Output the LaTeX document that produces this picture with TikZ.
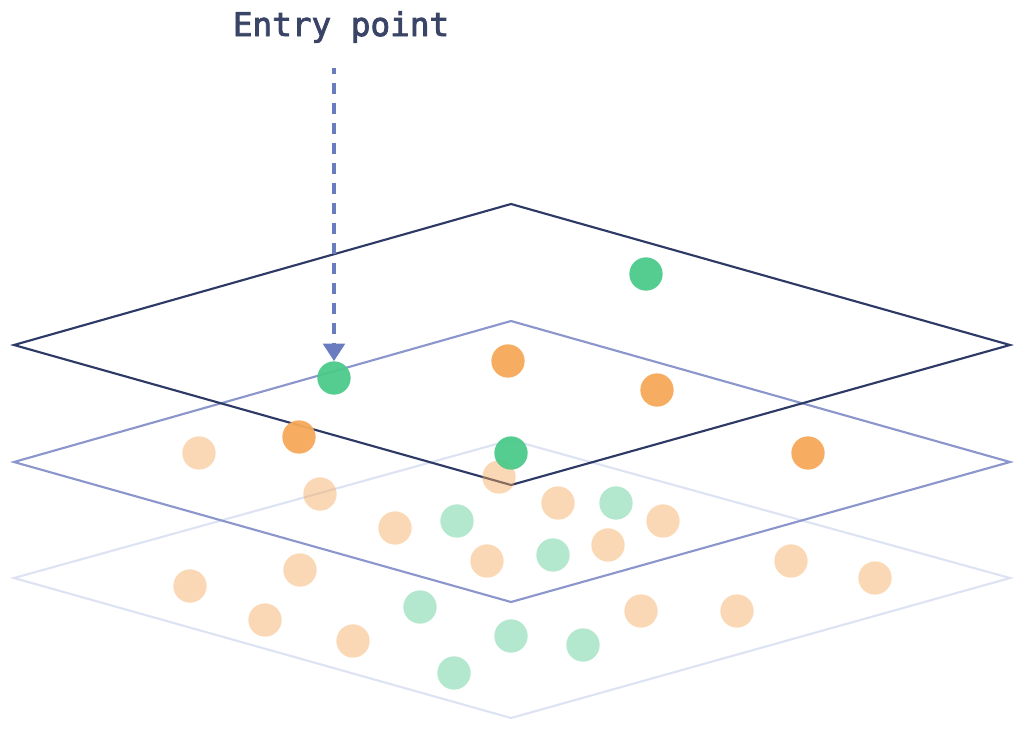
\documentclass[tikz,border=0pt]{standalone}
\usepackage{fontspec}
\newfontfamily\entryfont{DejaVu Sans Mono}[FakeBold=2.5]
\usetikzlibrary{arrows.meta}
\definecolor{navy}{HTML}{2D3A66}
\definecolor{midplane}{HTML}{8B96CC}
\definecolor{lowplane}{HTML}{DDE3F3}
\definecolor{txt}{HTML}{3A4466}
\definecolor{arr}{HTML}{6A7CC0}
\definecolor{grn}{HTML}{4CC98A}
\definecolor{org}{HTML}{F5A95A}
\tikzset{
  plane/.style={line width=1.6pt, line join=miter},
  gdot/.style={circle, fill=grn, fill opacity=0.95, inner sep=0pt, minimum size=25pt},
  odot/.style={circle, fill=org, fill opacity=0.95, inner sep=0pt, minimum size=25pt},
  fodot/.style={circle, fill=org, fill opacity=0.45, inner sep=0pt, minimum size=25pt},
  fgdot/.style={circle, fill=grn, fill opacity=0.42, inner sep=0pt, minimum size=25pt},
}
\begin{document}
\begin{tikzpicture}[x=0.75pt,y=-0.75pt]
\useasboundingbox (0,0) rectangle (1024,732);
% planes
\draw[plane, lowplane] (14,578) -- (511,440) -- (1010,578) -- (511,718) -- cycle;
\draw[plane, midplane] (14,462) -- (511,321) -- (1010,462) -- (511,602) -- cycle;
\draw[plane, navy] (14,345) -- (511,204) -- (1010,345) -- (511,485) -- cycle;
% faded dots
\foreach \x/\y [count=\i] in {199/453,320/494,499/477,558/503,395/528,663/521,608/545,487/561,300/570,190/586,265/620,353/641,641/611,737/611,791/561,875/578}
  \node[fodot] (fo\i) at (\x,\y) {};
\foreach \x/\y [count=\i] in {457/521,616/503,553/555,420/607,511/636,583/645,454/673}
  \node[fgdot] (fg\i) at (\x,\y) {};
% middle layer dots
\node[odot] (o1) at (508,361) {};
\node[odot] (o2) at (657,390) {};
\node[odot] (o3) at (299,437) {};
\node[odot] (o4) at (808,453) {};
% top layer dots
\node[gdot] (g1) at (646,274) {};
\node[gdot] (g2) at (334,378) {};
\node[gdot] (g3) at (511,453) {};
% entry point
\node[font=\entryfont\fontsize{24.5}{28}\selectfont, text=txt] (entry) at (341,27) {Entry point};
\coordinate (astart) at (334,68);
\draw[arr, line width=3pt, dash pattern=on 8.25pt off 6.75pt, dash phase=4pt,
  -{Triangle[length=13pt,width=16pt]}] (astart) -- (g2.north);
\end{tikzpicture}
\end{document}
